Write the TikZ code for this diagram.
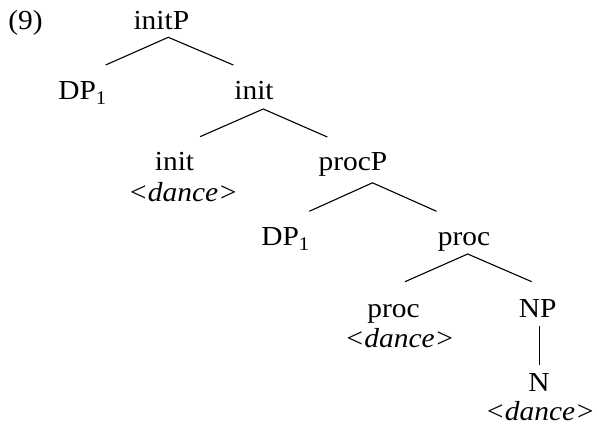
\documentclass[tikz,border=0pt]{standalone}
\usepackage{fontspec}
\setmainfont{Liberation Serif}[FakeStretch=1.07]
\begin{document}
\begin{tikzpicture}[x=1pt,y=-1pt,
  lab/.style={anchor=base,inner sep=0pt,font=\fontsize{27.5}{32}\selectfont},
  branch/.style={line width=1.1pt}]
\useasboundingbox (0,0) rectangle (597,430);
% labels
\node[lab] (ex)     at (25.5,30)   {(9)};
\node[lab] (initP)  at (161.3,29.5) {initP};
\node[lab] (dpa)    at (82.5,100)  {DP\textsubscript{1}};
\node[lab] (initb)  at (254,100)   {init};
\node[lab] (initc)  at (174.5,171) {init};
\node[lab] (dancea) at (183,202)   {\itshape <dance>};
\node[lab] (procP)  at (353,171)   {procP};
\node[lab] (dpb)    at (285.5,246) {DP\textsubscript{1}};
\node[lab] (proca)  at (464,246)   {proc};
\node[lab] (procb)  at (393.5,317) {proc};
\node[lab] (dancec) at (399.5,348) {\itshape <dance>};
\node[lab] (np)     at (537.7,317) {NP};
\node[lab] (n)      at (539,391)   {N};
\node[lab] (danceb) at (540,420) {\itshape <dance>};
% branch points
\coordinate (t1) at (168.3,37.3);
\coordinate (l1) at (105.7,65);
\coordinate (r1) at (233.3,65);
\coordinate (t2) at (263.3,109);
\coordinate (l2) at (200,136.7);
\coordinate (r2) at (327.3,137);
\coordinate (t3) at (372.5,182.8);
\coordinate (l3) at (309.3,211.3);
\coordinate (r3) at (436.5,211.3);
\coordinate (t4) at (467.7,254);
\coordinate (l4) at (405,281.7);
\coordinate (r4) at (531.7,281.7);
\coordinate (t5) at (539.5,326);
\coordinate (b5) at (539.5,365);
\draw[branch] (l1) -- (t1) -- (r1);
\draw[branch] (l2) -- (t2) -- (r2);
\draw[branch] (l3) -- (t3) -- (r3);
\draw[branch] (l4) -- (t4) -- (r4);
\draw[branch] (t5) -- (b5);
\end{tikzpicture}
\end{document}
